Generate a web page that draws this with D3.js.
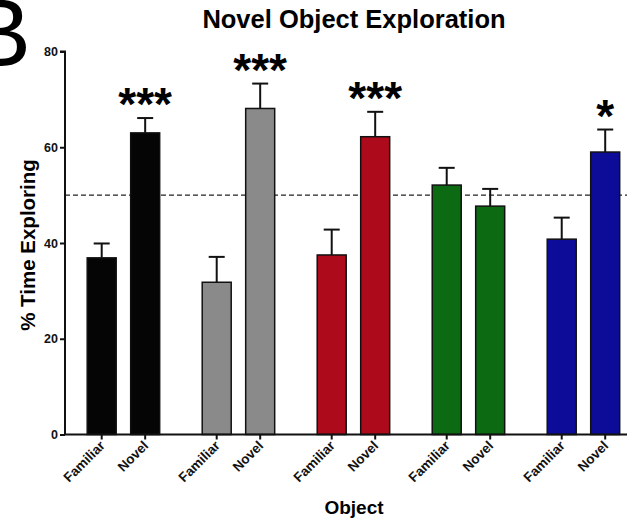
<!DOCTYPE html>
<html><head><meta charset="utf-8">
<script src="https://cdn.jsdelivr.net/npm/d3@7"></script>
<style>body{margin:0;background:#fff}svg{display:block}text{font-family:"Liberation Sans",Arial,sans-serif}</style>
</head><body><svg id="c" width="631" height="525"></svg>
<script>
const groups = ["Black", "Gray", "Red", "Green", "Blue"];
const conditions = ["Familiar", "Novel"];
const means = [36.9, 63.0, 31.8, 68.1, 37.5, 62.2, 52.1, 47.7, 40.8, 59.0];
const errors = [3.0, 3.1, 5.3, 5.2, 5.3, 5.2, 3.6, 3.6, 4.5, 4.7];
const colors = ["#050505", "#8a8a8a", "#ad0a1c", "#0b6a12", "#0c0c98"];
const stars = ["", "***", "", "***", "", "***", "", "", "", "*"];
const yTicks = [0, 20, 40, 60, 80];
const chance = 50;

const svg = d3.select("#c");
const groupStep = 2.645;
const bars = [];
groups.forEach((g, gi) => conditions.forEach((c, ci) => {
  const i = gi * 2 + ci;
  bars.push({g, c, gi, pos: gi * groupStep + ci, mean: means[i], err: errors[i], star: stars[i], color: colors[gi]});
}));
const lastPos = (groups.length - 1) * groupStep + 1;
const x = d3.scaleLinear().domain([0, lastPos]).range([101.7, 605.2]);
const barW = 29;
const y = d3.scaleLinear().domain([0, 80]).range([434.5, 51.5]);
const axisLeft = 65, axisRight = 627;

// Big panel letter
svg.append("text").attr("x", 31).attr("y", 66).attr("text-anchor", "end")
  .attr("font-size", 96).attr("fill", "#000").text("B");

// title
svg.append("text").attr("x", 354).attr("y", 28).attr("text-anchor", "middle")
  .attr("font-size", 25.5).attr("font-weight", "bold").text("Novel Object Exploration");

// chance line
svg.append("line").attr("x1", axisLeft).attr("x2", axisRight)
  .attr("y1", y(chance)).attr("y2", y(chance))
  .attr("stroke", "#222").attr("stroke-width", 1.4).attr("stroke-dasharray", "5,3");

// error bars
const eb = svg.append("g");
bars.forEach(d => {
  const cx = x(d.pos);
  eb.append("line").attr("x1", cx).attr("x2", cx).attr("y1", y(d.mean)).attr("y2", y(d.mean + d.err))
    .attr("stroke", "#111").attr("stroke-width", 2);
  eb.append("line").attr("x1", cx - 8).attr("x2", cx + 8).attr("y1", y(d.mean + d.err)).attr("y2", y(d.mean + d.err))
    .attr("stroke", "#111").attr("stroke-width", 2);
});

// bars
svg.append("g").selectAll("rect").data(bars).join("rect")
  .attr("x", d => x(d.pos) - barW / 2).attr("width", barW)
  .attr("y", d => y(d.mean)).attr("height", d => y(0) - y(d.mean))
  .attr("fill", d => d.color).attr("stroke", "#111").attr("stroke-width", 1.5);

// stars
svg.append("g").selectAll("text").data(bars.filter(d => d.star)).join("text")
  .attr("x", d => x(d.pos)).attr("y", d => y(d.mean + d.err) + 2)
  .attr("text-anchor", "middle").attr("font-size", 46).attr("font-weight", "bold")
  .text(d => d.star);

// y axis
const ya = svg.append("g").attr("transform", `translate(${axisLeft},0)`)
  .call(d3.axisLeft(y).tickValues(yTicks).tickSize(5).tickPadding(2));
ya.select(".domain").attr("stroke", "#111").attr("stroke-width", 2).attr("d", `M-5,${y(80)}H0V${y(0)}`);
ya.selectAll(".tick line").attr("stroke", "#111").attr("stroke-width", 2);
ya.selectAll(".tick text").attr("font-size", 12.5).attr("font-weight", "bold").attr("fill", "#111")
  .style("font-family", "'Liberation Sans', Arial, sans-serif");

// x axis
const xa = svg.append("g").attr("transform", `translate(0,${y(0)})`);
xa.append("line").attr("x1", axisLeft - 1).attr("x2", axisRight).attr("stroke", "#111").attr("stroke-width", 2);
bars.forEach(d => {
  const cx = x(d.pos);
  xa.append("line").attr("x1", cx).attr("x2", cx).attr("y1", 0).attr("y2", 5).attr("stroke", "#111").attr("stroke-width", 2);
  xa.append("text").attr("transform", `translate(${cx + 4},${12}) rotate(-45)`)
    .attr("text-anchor", "end").attr("font-size", 13.5).attr("font-weight", "bold").attr("fill", "#111")
    .text(d.c);
});

// axis titles
svg.append("text").attr("x", 354).attr("y", 514).attr("text-anchor", "middle")
  .attr("font-size", 19).attr("font-weight", "bold").text("Object");
svg.append("text").attr("transform", `translate(35,245) rotate(-90)`).attr("text-anchor", "middle")
  .attr("font-size", 20.5).attr("font-weight", "bold").text("% Time Exploring");
</script></body></html>
